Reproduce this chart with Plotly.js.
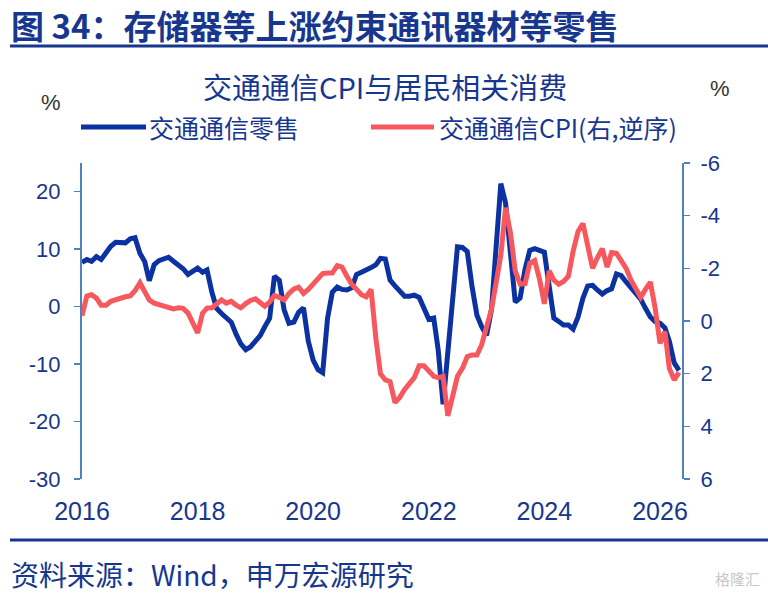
<!DOCTYPE html>
<html>
<head>
<meta charset="utf-8">
<script src="https://cdn.plot.ly/plotly-3.0.1.min.js"></script>
<style>
html,body{margin:0;padding:0;background:#fff;}
#chart{width:768px;height:594px;}
</style>
</head>
<body>
<div id="chart"></div>
<script>
// ---- data (monthly, starting 2016-01) ----
const startYear = 2016;
const retailName = "交通通信零售";
const cpiName = "交通通信CPI(右,逆序)";
const retail = [
 7.7, 8.2, 7.9, 8.7, 8.2, 9.3, 10.5, 11.2, 11.2, 11.1, 11.8, 12.0,
 9.3, 7.8, 4.5, 7.3, 8.0, 8.4, 8.6, 7.9, 7.3, 6.6, 5.6, 6.2,
 6.7, 6.0, 6.4, 2.5, -0.3, -1.2, -2.0, -2.7, -4.8, -6.5, -7.5, -7.0,
 -6.0, -5.0, -3.5, -2.0, 5.3, 4.6, -0.5, -2.9, -2.7, -1.0, -0.2, -6.0,
 -9.3, -11.0, -11.5, -2.0, 2.5, 3.4, 3.0, 2.9, 3.3, 5.6, 6.0, 6.3,
 6.8, 7.3, 8.4, 8.3, 4.6, 3.6, 2.8, 1.8, 1.8, 2.0, 1.6, -0.4,
 -2.2, -2.0, -7.5, -17.0, -7.5, 2.3, 10.4, 10.3, 9.6, 3.5, -1.5, -3.5,
 -5.0, -0.5, 9.0, 21.4, 18.0, 8.6, 0.8, 1.5, 6.5, 9.8, 10.1, 9.8,
 9.5, 3.5, -2.0, -2.6, -3.2, -3.2, -3.9, -1.8, 1.5, 3.6, 3.7, 2.9,
 2.2, 2.8, 3.1, 5.7, 5.4, 4.3, 3.3, 2.3, 1.3, -0.3, -1.8, -2.6,
 -2.9, -3.7, -6.0, -9.8, -11.1
];
const cpi = [
 -0.2, -0.95, -1.0, -0.87, -0.6, -0.6, -0.75, -0.82, -0.88, -0.92, -0.95, -1.15,
 -1.45, -1.1, -0.8, -0.68, -0.62, -0.57, -0.52, -0.46, -0.5, -0.48, -0.3, 0.05,
 0.45, -0.3, -0.49, -0.5, -0.65, -0.8, -0.68, -0.75, -0.6, -0.5, -0.66, -0.78,
 -0.84, -0.7, -0.56, -0.72, -0.97, -0.9, -0.8, -1.05, -1.22, -1.28, -1.05, -1.2,
 -1.4, -1.65, -1.8, -1.82, -1.82, -2.1, -2.05, -1.7, -1.4, -1.2, -1.0, -0.92,
 -1.2, 0.7, 2.0, 2.24, 2.3, 3.1, 2.9, 2.6, 2.35, 2.15, 1.7, 1.7,
 1.9, 2.1, 2.15, 2.1, 3.6, 2.8, 2.1, 1.8, 1.35, 1.29, 1.29, 0.9,
 0.2, -0.45, -1.4, -2.5, -4.3, -3.34, -1.9, -1.4, -1.42, -2.2, -2.3, -1.6,
 -0.65, -1.9, -1.55, -1.4, -1.5, -1.7, -2.65, -3.4, -3.7, -2.9, -2.0, -2.4,
 -2.75, -2.05, -2.6, -2.57, -2.3, -2.0, -1.56, -1.25, -0.9, -1.2, -1.48, -0.5,
 0.85, 0.4, 1.8, 2.24, 1.95
];
const yearTicks = ["2016", "2018", "2020", "2022", "2024", "2026"];
const leftTicks = [-30, -20, -10, 0, 10, 20];
const rightTicks = [-6, -4, -2, 0, 2, 4, 6];

function monthDate(i){
  const y = startYear + Math.floor(i/12);
  const m = (i % 12) + 1;
  return y + "-" + (m < 10 ? "0" + m : m) + "-01";
}
const dates = retail.map((_, i) => monthDate(i));
const datesCpi = cpi.map((_, i) => monthDate(i));
const tickVals = yearTicks.map(t => t + "-01-01");

// ---- styling ----
const NAVY = "#17378f";
const BLUE = "#0b32a0";
const RED = "#f6585e";
const AXIS = "#4f81bd";
const CJK = "'Noto Sans CJK SC', 'Liberation Sans', Arial, sans-serif";
const NUM = "'Liberation Sans', Arial, sans-serif";

// plot area in pixels
const L = 82, R = 682, T = 163, B = 479;
const px = x => (x - L) / (R - L);
const py = y => (B - y) / (B - T);

const xRange = ["2016-01-01", "2026-05-20"];

const traces = [
  {x: datesCpi, y: cpi, type: "scatter", mode: "lines", name: cpiName,
   yaxis: "y2", line: {color: RED, width: 5}, hoverinfo: "skip"},
  {x: dates, y: retail, type: "scatter", mode: "lines", name: retailName,
   line: {color: BLUE, width: 5}, hoverinfo: "skip"}
];

const layout = {
  width: 768, height: 594,
  paper_bgcolor: "#fff", plot_bgcolor: "#fff",
  showlegend: false,
  margin: {l: L, r: 768 - R, t: T, b: 594 - B, pad: 0},
  xaxis: {
    type: "date", range: xRange, showgrid: false, zeroline: false,
    showline: false, ticks: "", tickvals: tickVals, ticktext: yearTicks,
    tickfont: {family: NUM, size: 25, color: NAVY}, ticklabelstandoff: 15
  },
  xaxis2: {
    type: "date", range: xRange, overlaying: "x", anchor: "free",
    position: 30 / 55, showgrid: false, zeroline: false,
    showline: true, linecolor: AXIS, linewidth: 2,
    ticks: "outside", ticklen: 5, tickwidth: 1.5, tickcolor: AXIS,
    tickvals: tickVals, showticklabels: false
  },
  yaxis: {
    range: [-30, 25], tickvals: leftTicks, ticktext: leftTicks.map(String),
    showgrid: false, zeroline: false,
    showline: true, linecolor: AXIS, linewidth: 2,
    ticks: "outside", ticklen: 6, tickwidth: 1.5, tickcolor: AXIS,
    tickfont: {family: NUM, size: 22, color: NAVY}, ticklabelstandoff: 9
  },
  yaxis2: {
    range: [6, -6], tickvals: rightTicks, ticktext: rightTicks.map(String),
    overlaying: "y", side: "right",
    showgrid: false, zeroline: false,
    showline: true, linecolor: AXIS, linewidth: 2,
    ticks: "outside", ticklen: 6, tickwidth: 1.5, tickcolor: AXIS,
    tickfont: {family: NUM, size: 22, color: NAVY}, ticklabelstandoff: 6
  },
  shapes: [
    {type: "line", xref: "paper", yref: "paper", x0: px(10), x1: px(768), y0: py(46), y1: py(46),
     line: {color: NAVY, width: 3}},
    {type: "line", xref: "paper", yref: "paper", x0: px(10), x1: px(768), y0: py(540), y1: py(540),
     line: {color: NAVY, width: 3}},
    {type: "line", xref: "paper", yref: "paper", x0: px(81), x1: px(146), y0: py(127), y1: py(127),
     line: {color: BLUE, width: 5}},
    {type: "line", xref: "paper", yref: "paper", x0: px(371), x1: px(434), y0: py(127), y1: py(127),
     line: {color: RED, width: 5}}
  ],
  annotations: [
    {text: "<b>图 34：存储器等上涨约束通讯器材等零售</b>", xref: "paper", yref: "paper",
     x: px(9), y: py(25), xanchor: "left", yanchor: "middle", showarrow: false,
     font: {family: CJK, size: 33, color: NAVY}},
    {text: "交通通信CPI与居民相关消费", xref: "paper", yref: "paper",
     x: px(385), y: py(86), xanchor: "center", yanchor: "middle", showarrow: false,
     font: {family: CJK, size: 29, color: NAVY}},
    {text: "%", xref: "paper", yref: "paper", x: px(51), y: py(102),
     xanchor: "center", yanchor: "middle", showarrow: false,
     font: {family: NUM, size: 22, color: "#333"}},
    {text: "%", xref: "paper", yref: "paper", x: px(720), y: py(88),
     xanchor: "center", yanchor: "middle", showarrow: false,
     font: {family: NUM, size: 22, color: "#333"}},
    {text: retailName, xref: "paper", yref: "paper", x: px(147), y: py(127),
     xanchor: "left", yanchor: "middle", showarrow: false,
     font: {family: CJK, size: 25, color: NAVY}},
    {text: cpiName, xref: "paper", yref: "paper", x: px(437), y: py(127),
     xanchor: "left", yanchor: "middle", showarrow: false,
     font: {family: CJK, size: 25, color: NAVY}},
    {text: "资料来源：Wind，申万宏源研究", xref: "paper", yref: "paper",
     x: px(9), y: py(574), xanchor: "left", yanchor: "middle", showarrow: false,
     font: {family: CJK, size: 28, color: NAVY}},
    {text: "格隆汇", xref: "paper", yref: "paper", x: px(762), y: py(578),
     xanchor: "right", yanchor: "middle", showarrow: false,
     font: {family: CJK, size: 15, color: "#c8c8c8"}}
  ]
};

Plotly.newPlot("chart", traces, layout, {displayModeBar: false, staticPlot: true});
</script>
</body>
</html>
